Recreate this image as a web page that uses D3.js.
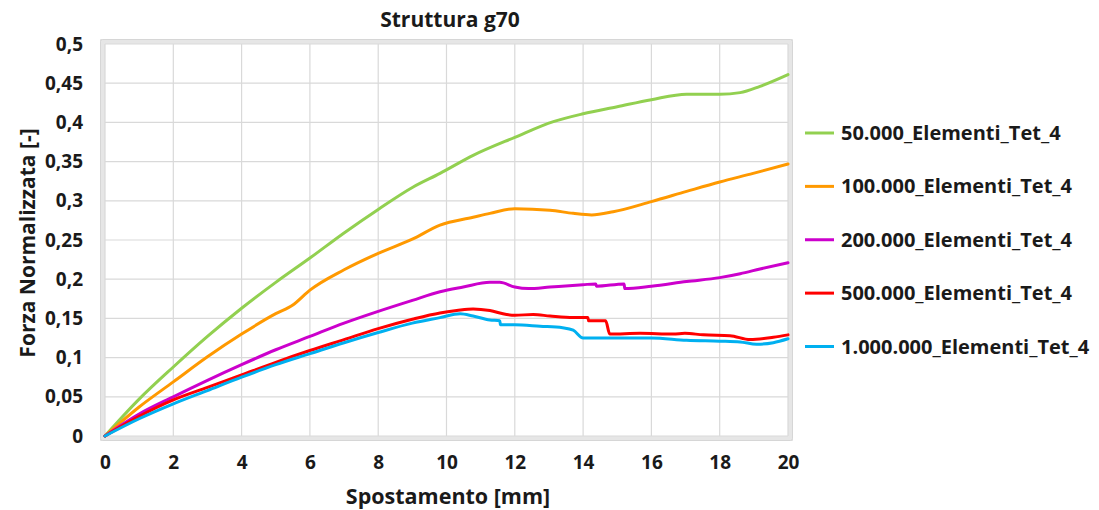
<!DOCTYPE html>
<html>
<head>
<meta charset="utf-8">
<script src="https://cdn.jsdelivr.net/npm/d3@7"></script>
<style>
  html, body { margin: 0; padding: 0; background: #fff; }
  svg text { font-family: "Open Sans", "DejaVu Sans", sans-serif; font-weight: bold; fill: #1a1a1a; }
</style>
</head>
<body>
<svg id="chart" width="1099" height="510"></svg>
<script>
// Axis ticks
const xTicks = [0, 2, 4, 6, 8, 10, 12, 14, 16, 18, 20];
const yTicks = [0, 0.05, 0.1, 0.15, 0.2, 0.25, 0.3, 0.35, 0.4, 0.45, 0.5];

// Series names and colours
const seriesNames = [
  "50.000_Elementi_Tet_4",
  "100.000_Elementi_Tet_4",
  "200.000_Elementi_Tet_4",
  "500.000_Elementi_Tet_4",
  "1.000.000_Elementi_Tet_4"
];
const seriesColors = ["#92d050", "#ff9900", "#cc00cc", "#ff0000", "#00b0f0"];

// Displacement [mm] / normalised force pairs for each mesh
const tet50k = [
  [0, 0], [1, 0.047], [2, 0.088], [3, 0.127], [4, 0.163], [5, 0.196], [6, 0.227],
  [7, 0.259], [8, 0.289], [9, 0.317], [9.81, 0.335], [10.78, 0.358], [12, 0.381],
  [13.13, 0.401], [14, 0.411], [15, 0.420], [16, 0.429], [17.03, 0.436], [18, 0.436],
  [18.6, 0.438], [19.18, 0.446], [20, 0.461]
];
const tet100k = [
  [0, 0], [1, 0.037], [2, 0.069], [3, 0.101], [4, 0.130], [5, 0.156], [5.5, 0.167],
  [6, 0.186], [7, 0.212], [8, 0.233], [9, 0.251], [9.81, 0.269], [10.78, 0.279],
  [11.27, 0.284], [12, 0.290], [13.03, 0.288], [13.71, 0.284], [14.25, 0.282],
  [14.88, 0.286], [16, 0.299], [17.03, 0.312], [18, 0.324], [18.98, 0.335], [20, 0.347]
];
const tet200k = [
  [0, 0], [1, 0.028], [2, 0.050], [3, 0.071], [4, 0.091], [5, 0.110], [6, 0.127],
  [7, 0.144], [8, 0.159], [9, 0.173], [9.81, 0.184], [10.49, 0.190], [11.27, 0.196],
  [11.56, 0.196], [12, 0.190], [12.4, 0.188], [13.03, 0.190], [14, 0.193], [14.37, 0.194],
  [14.39, 0.191], [15.2, 0.194], [15.22, 0.188], [16, 0.191], [17.03, 0.197], [18, 0.202],
  [18.6, 0.207], [19.18, 0.213], [20, 0.221]
];
const tet500k = [
  [0, 0], [1, 0.025], [2, 0.046], [3, 0.062], [4, 0.078], [5, 0.094], [6, 0.109],
  [7, 0.123], [8, 0.137], [9, 0.149], [9.81, 0.157], [10.3, 0.160], [10.78, 0.162],
  [11.27, 0.160], [11.76, 0.155], [12, 0.154], [12.54, 0.155], [13.03, 0.153],
  [13.71, 0.151], [14.14, 0.151], [14.16, 0.147], [14.66, 0.147], [14.78, 0.130],
  [15.67, 0.131], [16.64, 0.130], [16.98, 0.131], [17.52, 0.129], [18.3, 0.128],
  [18.89, 0.123], [19.57, 0.126], [20, 0.129]
];
const tet1M = [
  [0, 0], [1, 0.022], [2, 0.041], [3, 0.058], [4, 0.075], [5, 0.091], [6, 0.105],
  [7, 0.119], [8, 0.132], [9, 0.144], [9.81, 0.151], [10.4, 0.156], [10.78, 0.153],
  [11.27, 0.148], [11.56, 0.147], [11.58, 0.142], [12, 0.142], [12.74, 0.140],
  [13.4, 0.138], [13.71, 0.135], [14, 0.125], [14.7, 0.125], [16, 0.125], [17.03, 0.122],
  [18, 0.121], [18.6, 0.120], [19.08, 0.117], [19.57, 0.119], [20, 0.124]
];
const seriesData = [tet50k, tet100k, tet200k, tet500k, tet1M];

const svg = d3.select("#chart");
const plot = { left: 105, right: 788, top: 44, bottom: 436 };

const x = d3.scaleLinear().domain([0, 20]).range([plot.left, plot.right]);
const y = d3.scaleLinear().domain([0, 0.5]).range([plot.bottom, plot.top]);

const fmt = v => String(+v.toFixed(2)).replace(".", ",");

// Plot area frame
svg.append("rect")
  .attr("x", plot.left - 2.5).attr("y", plot.top - 2.5)
  .attr("width", plot.right - plot.left + 5).attr("height", plot.bottom - plot.top + 5)
  .attr("fill", "#fff").attr("stroke", "#e6e6e6").attr("stroke-width", 5);
svg.append("rect")
  .attr("x", plot.left - 4.5).attr("y", plot.top - 4.5)
  .attr("width", plot.right - plot.left + 9).attr("height", plot.bottom - plot.top + 9)
  .attr("rx", 2)
  .attr("fill", "none").attr("stroke", "#d6d6d6").attr("stroke-width", 1);

// Gridlines
const grid = svg.append("g").attr("stroke", "#d9d9d9").attr("stroke-width", 1.2);
grid.selectAll(".gx").data(xTicks).join("line")
  .attr("x1", d => x(d)).attr("x2", d => x(d))
  .attr("y1", plot.top).attr("y2", plot.bottom);
grid.selectAll(".gy").data(yTicks).join("line")
  .attr("x1", plot.left).attr("x2", plot.right)
  .attr("y1", d => y(d)).attr("y2", d => y(d));

// Axes (labels only, Excel style)
const xAxis = svg.append("g")
  .attr("transform", `translate(0,${plot.bottom + 3})`)
  .call(d3.axisBottom(x).tickValues(xTicks).tickFormat(d => d).tickSize(0).tickPadding(17));
const yAxis = svg.append("g")
  .attr("transform", `translate(${plot.left - 5},0)`)
  .call(d3.axisLeft(y).tickValues(yTicks).tickFormat(fmt).tickSize(0).tickPadding(17));
[xAxis, yAxis].forEach(a => {
  a.select(".domain").remove();
  a.selectAll("text").style("font-size", "19px").style("font-family", "'Open Sans', sans-serif")
    .style("font-weight", "bold").attr("fill", "#1a1a1a");
});

// Series lines
const line = d3.line()
  .x(d => x(d[0])).y(d => y(d[1]))
  .curve(d3.curveMonotoneX);
svg.append("g").selectAll("path").data(seriesData).join("path")
  .attr("d", line)
  .attr("fill", "none")
  .attr("stroke", (d, i) => seriesColors[i])
  .attr("stroke-width", 3)
  .attr("stroke-linejoin", "round")
  .attr("stroke-linecap", "round");

// Title
svg.append("text")
  .attr("x", 450).attr("y", 27).attr("text-anchor", "middle")
  .style("font-size", "21px").text("Struttura g70");

// Axis titles
svg.append("text")
  .attr("x", 448).attr("y", 504).attr("text-anchor", "middle")
  .style("font-size", "21.5px").text("Spostamento [mm]");
svg.append("text")
  .attr("transform", "translate(35,243) rotate(-90)")
  .attr("text-anchor", "middle")
  .style("font-size", "21px").text("Forza Normalizzata [-]");

// Legend
const legendY = d3.scalePoint().domain(seriesNames).range([133, 346.5]);
const legend = svg.append("g").selectAll("g").data(seriesNames).join("g")
  .attr("transform", d => `translate(805,${legendY(d)})`);
legend.append("line")
  .attr("x1", 0).attr("x2", 29).attr("y1", 0).attr("y2", 0)
  .attr("stroke", (d, i) => seriesColors[i]).attr("stroke-width", 3);
legend.append("text")
  .attr("x", 36).attr("y", 7)
  .style("font-size", "20px").text(d => d);
</script>
</body>
</html>
